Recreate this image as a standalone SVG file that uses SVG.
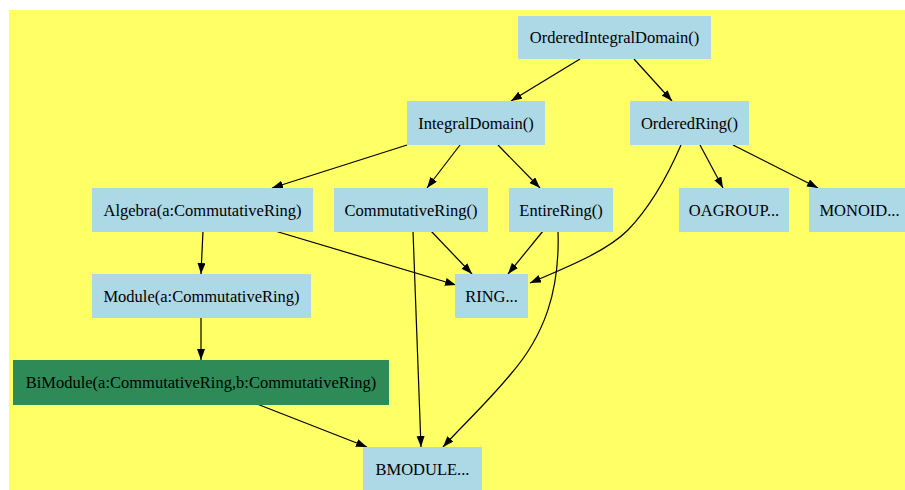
<svg xmlns="http://www.w3.org/2000/svg" width="905" height="490" viewBox="0 0 905 490">
<defs>
<marker id="ah" markerWidth="12" markerHeight="9" refX="11" refY="4" orient="auto" markerUnits="userSpaceOnUse">
<path d="M0,0 L11,4 L0,8 z" fill="#000"/>
</marker>
<style>
.n rect{fill:#add8e6;}
.g rect{fill:#2e8b57;}
text{font-family:"Liberation Serif","Times New Roman",serif;font-size:16.5px;fill:#000;text-anchor:middle;}
#edges path{fill:none;stroke:#000;stroke-width:1.2;marker-end:url(#ah);}
</style>
</defs>
<rect x="9" y="10" width="900" height="485" fill="#ffff66"/>
<g id="edges">
<path d="M580,59 L511,101"/>
<path d="M634,59 L672,101"/>
<path d="M407,145 L272,188"/>
<path d="M460,145 L427,188"/>
<path d="M498,145 L540,188"/>
<path d="M700,145 L723,188"/>
<path d="M733,145 L818,188"/>
<path d="M681,145 C668,175 652,205 628,230 C606,252 565,268 530,283"/>
<path d="M275,231 L456,285"/>
<path d="M203,231 L201,274"/>
<path d="M431,231 L472,274"/>
<path d="M413,231 L421,447"/>
<path d="M543,231 L508,274"/>
<path d="M558,231 C560,290 545,335 510,375 C485,405 460,428 443,447"/>
<path d="M201,318 L201,360"/>
<path d="M257,404 L367,447"/>
</g>
<g id="OrderedIntegralDomain" class="n"><rect x="518" y="16" width="193" height="43"/><text x="614.5" y="43">OrderedIntegralDomain()</text></g>
<g id="IntegralDomain" class="n"><rect x="407" y="101" width="138" height="44"/><text x="476" y="128.5">IntegralDomain()</text></g>
<g id="OrderedRing" class="n"><rect x="630" y="101" width="119" height="44"/><text x="689.5" y="128.5">OrderedRing()</text></g>
<g id="Algebra" class="n"><rect x="92" y="188" width="221" height="44"/><text x="202.5" y="215.5">Algebra(a:CommutativeRing)</text></g>
<g id="CommutativeRing" class="n"><rect x="334" y="188" width="154" height="44"/><text x="411" y="215.5">CommutativeRing()</text></g>
<g id="EntireRing" class="n"><rect x="509" y="188" width="104" height="44"/><text x="561" y="215.5">EntireRing()</text></g>
<g id="OAGROUP" class="n"><rect x="679" y="188" width="110" height="44"/><text x="734" y="215.5">OAGROUP...</text></g>
<g id="MONOID" class="n"><rect x="809" y="188" width="101" height="44"/><text x="859.5" y="215.5">MONOID...</text></g>
<g id="Module" class="n"><rect x="92" y="274" width="219" height="44"/><text x="201.5" y="301.5">Module(a:CommutativeRing)</text></g>
<g id="RING" class="n"><rect x="455" y="274" width="73" height="44"/><text x="491.5" y="301.5">RING...</text></g>
<g id="BiModule" class="g"><rect x="13" y="360" width="376" height="45"/><text x="201" y="388">BiModule(a:CommutativeRing,b:CommutativeRing)</text></g>
<g id="BMODULE" class="n"><rect x="363" y="447" width="119" height="45"/><text x="422.5" y="474.5">BMODULE...</text></g>
</svg>
